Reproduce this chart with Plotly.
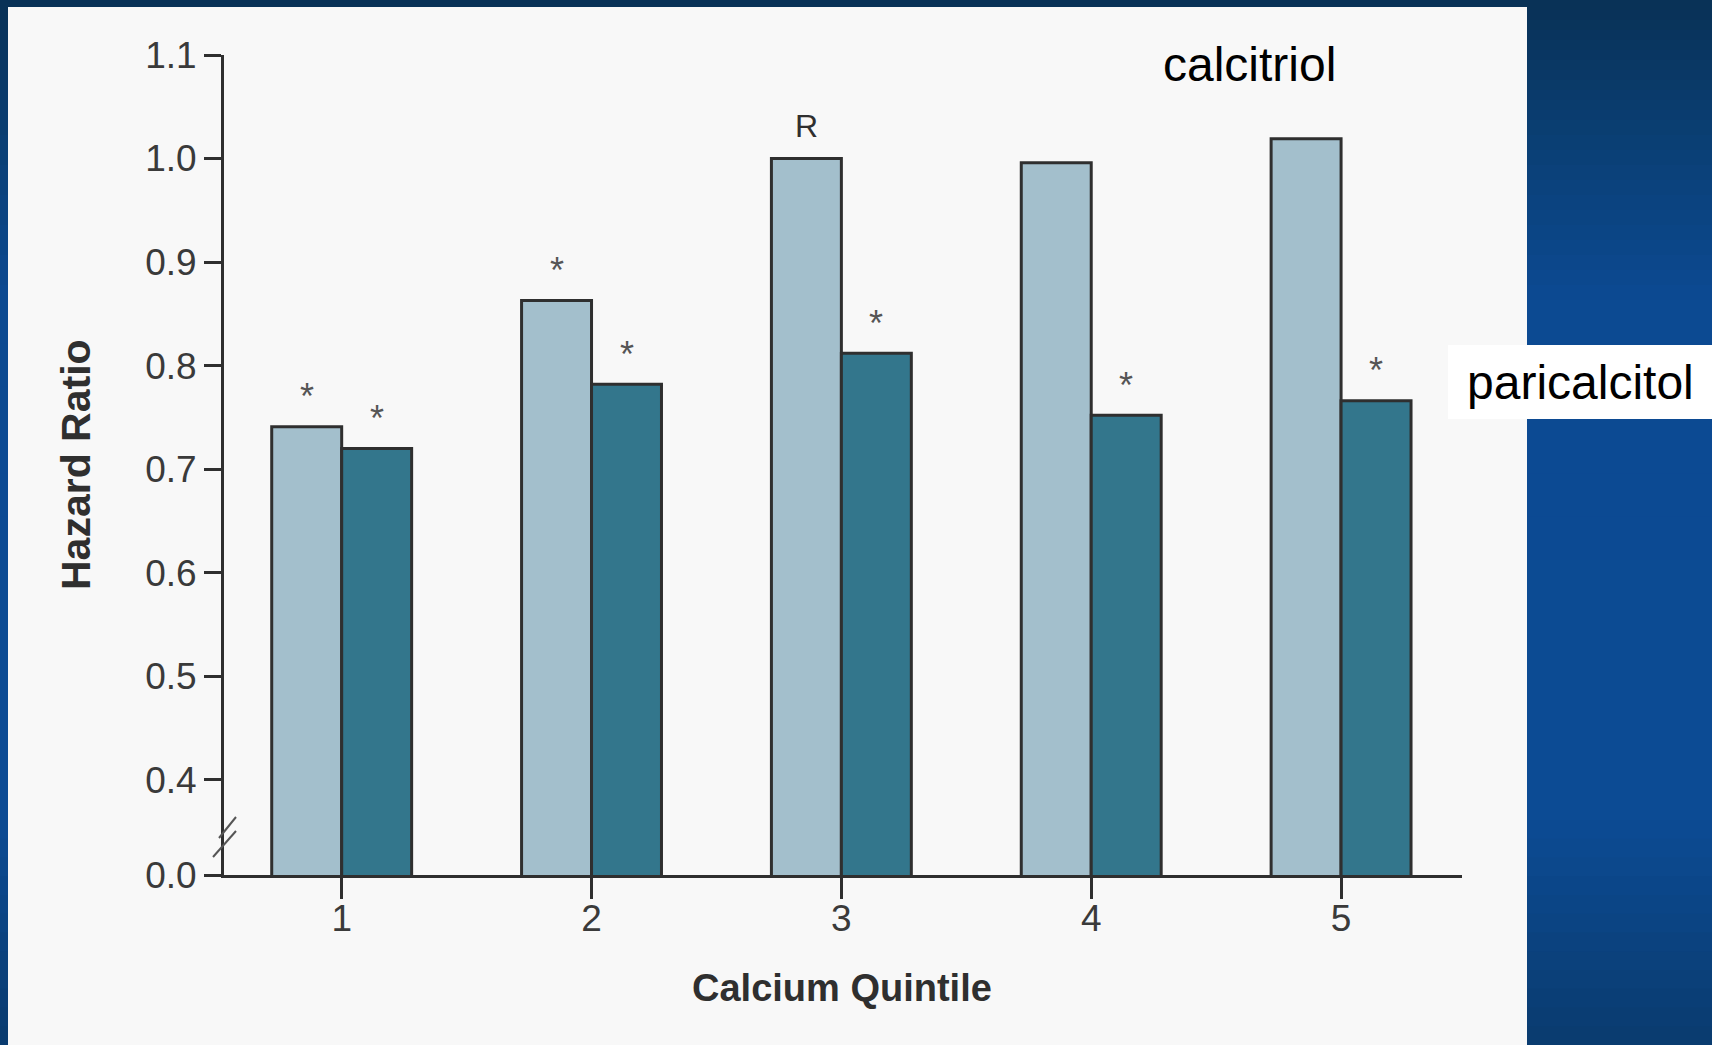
import plotly.graph_objects as go

# hazard ratios, per calcium quintile
QUINTILES = [1, 2, 3, 4, 5]
CALCITRIOL = [0.741, 0.863, 1.000, 0.996, 1.019]
PARICALCITOL = [0.720, 0.782, 0.812, 0.752, 0.766]
CALCITRIOL_MARKS = ["*", "*", "R", "", ""]
PARICALCITOL_MARKS = ["*", "*", "*", "*", "*"]
Y_TICKS = [0.4, 0.5, 0.6, 0.7, 0.8, 0.9, 1.0, 1.1]
Y_TICK_TEXT = ["0.4", "0.5", "0.6", "0.7", "0.8", "0.9", "1.0", "1.1"]

W, H = 1712, 1045
L, R, T, B = 224, 250, 55, 170
PW, PH = W - L - R, H - T - B
AXIS_FLOOR = 0.308  # broken axis: "0.0" sits here
X_RANGE = [0.529, 5.484]
BARGAP = 0.44

SANS = "Liberation Sans, Arial"
INK = "#2f2f2f"
LABEL = "#3a3a3a"
LIGHT = "#a3bfcc"
DARK = "#33768c"


def px(x):
    return (x - L) / PW


def py(y):
    return (H - B - y) / PH


cat_px = PW / (X_RANGE[1] - X_RANGE[0])
half_bar = cat_px * (1 - BARGAP) / 4  # centre offset of each bar in a pair

fig = go.Figure()
fig.add_bar(x=QUINTILES, y=CALCITRIOL, name="calcitriol",
            marker=dict(color=LIGHT, line=dict(color=INK, width=3)))
fig.add_bar(x=QUINTILES, y=PARICALCITOL, name="paricalcitol",
            marker=dict(color=DARK, line=dict(color=INK, width=3)))

annotations = []
for marks, vals, side in [(CALCITRIOL_MARKS, CALCITRIOL, -1),
                          (PARICALCITOL_MARKS, PARICALCITOL, 1)]:
    for q, v, m in zip(QUINTILES, vals, marks):
        if not m:
            continue
        if m == "R":
            font = dict(family=SANS, size=32, color=INK)
            shift = 33
        else:
            font = dict(family=SANS, size=36, color="#555")
            shift = 30
        annotations.append(dict(x=q, y=v, xref="x", yref="y", text=m, showarrow=False,
                                xanchor="center", yanchor="middle",
                                xshift=side * half_bar, yshift=shift, font=font))


def label(x, y, text, size, color=INK, angle=0):
    return dict(x=px(x), y=py(y), xref="paper", yref="paper", text=text,
                showarrow=False, xanchor="center", yanchor="middle", textangle=angle,
                font=dict(family=SANS, size=size, color=color))


annotations += [
    label(842, 988, "<b>Calcium Quintile</b>", 38),
    label(76, 465, "<b>Hazard Ratio</b>", 41, angle=-90),
    label(1249, 64, "calcitriol", 48, "black"),
    label(1580, 382, "paricalcitol", 48, "black"),
]


# blue slide background: soft vertical shading, darker at top and bottom
def mix(c1, c2, t):
    a = [int(c1[i:i + 2], 16) for i in (1, 3, 5)]
    b = [int(c2[i:i + 2], 16) for i in (1, 3, 5)]
    return "#" + "".join(f"{round(p + (q - p) * t):02x}" for p, q in zip(a, b))


stops = [(0, "#093156"), (120, "#0a3d70"), (300, "#0c4a92"), (820, "#0c4b94"),
         (1045, "#0a3b6e")]
shapes = []
for (ya, ca), (yb, cb) in zip(stops[:-1], stops[1:]):
    n = 12
    for i in range(n):
        y0 = ya + (yb - ya) * i / n
        y1 = ya + (yb - ya) * (i + 1) / n + 1
        shapes.append(dict(type="rect", xref="paper", yref="paper", x0=px(0), x1=px(W),
                           y0=py(y0), y1=py(y1), fillcolor=mix(ca, cb, (i + 0.5) / n),
                           line_width=0, layer="below"))
shapes += [
    # light chart panel
    dict(type="rect", xref="paper", yref="paper", x0=px(8), x1=px(1527), y0=py(7), y1=py(H),
         fillcolor="#f8f8f8", line_width=0, layer="below"),
    # white label box
    dict(type="rect", xref="paper", yref="paper", x0=px(1448), x1=px(W), y0=py(345), y1=py(419),
         fillcolor="white", line_width=0, layer="above"),
    # axis break marks
    dict(type="line", xref="paper", yref="paper", x0=px(236), y0=py(817), x1=px(219), y1=py(838),
         line=dict(color="#555", width=2)),
    dict(type="line", xref="paper", yref="paper", x0=px(236), y0=py(831), x1=px(213), y1=py(857),
         line=dict(color="#555", width=2)),
]

fig.update_layout(
    width=W, height=H, margin=dict(l=L, r=R, t=T, b=B, autoexpand=False),
    paper_bgcolor="#0c4a92", plot_bgcolor="rgba(0,0,0,0)",
    barmode="group", bargap=BARGAP, bargroupgap=0, showlegend=False,
    annotations=annotations, shapes=shapes,
    xaxis=dict(range=X_RANGE, tickvals=QUINTILES, ticks="outside", ticklen=21,
               tickwidth=3, tickcolor=INK, showline=True, linewidth=3, linecolor=INK,
               showgrid=False, zeroline=False, ticklabelstandoff=-12,
               tickfont=dict(family=SANS, size=37, color=LABEL)),
    yaxis=dict(range=[AXIS_FLOOR, 1.1], tickvals=[AXIS_FLOOR] + Y_TICKS,
               ticktext=["0.0"] + Y_TICK_TEXT, ticks="outside", ticklen=17,
               tickwidth=3, tickcolor=INK, showline=True, linewidth=3, linecolor=INK,
               showgrid=False, zeroline=False,
               tickfont=dict(family=SANS, size=37, color=LABEL)),
)

fig.write_html("out.html", config={"displayModeBar": False},
               post_script="document.body.style.margin = '0px';")
